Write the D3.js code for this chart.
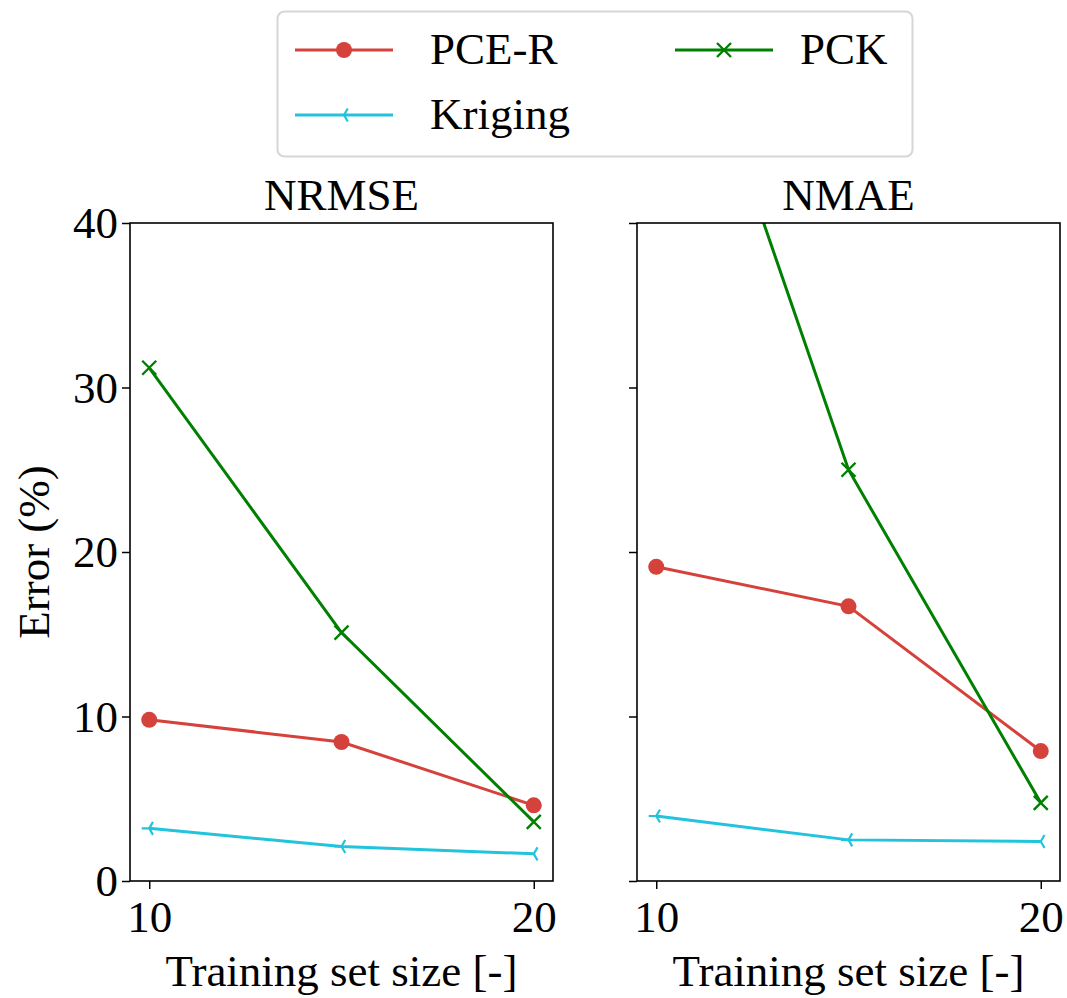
<!DOCTYPE html>
<html>
<head>
<meta charset="utf-8">
<script src="https://cdn.jsdelivr.net/npm/d3@7"></script>
<style>
  body { margin: 0; background: #fff; }
</style>
</head>
<body>
<svg id="chart" width="1067" height="998"></svg>
<script>
// ---- Data ----
const trainingSizes = [10, 15, 20];
const panelTitles = ["NRMSE", "NMAE"];
const seriesNames = ["PCE-R", "Kriging", "PCK"];
const nrmsePCER = [9.8, 8.45, 4.6];
const nrmseKriging = [3.2, 2.1, 1.65];
const nrmsePCK = [31.2, 15.1, 3.6];
const nmaePCER = [19.1, 16.7, 7.9];
const nmaeKriging = [3.95, 2.5, 2.4];
const nmaePCK = [59, 25.0, 4.75];
const yTicks = [0, 10, 20, 30, 40];
const xTicks = [10, 20];
const xLabel = "Training set size [-]";
const yLabel = "Error (%)";

const colors = { "PCE-R": "#d5423b", "Kriging": "#22c3dc", "PCK": "#008000" };
const FONT = "'Liberation Serif', 'Times New Roman', serif";

const panels = [
  { title: panelTitles[0], left: 130, data: { "PCE-R": nrmsePCER, "Kriging": nrmseKriging, "PCK": nrmsePCK }, showY: true },
  { title: panelTitles[1], left: 637, data: { "PCE-R": nmaePCER, "Kriging": nmaeKriging, "PCK": nmaePCK }, showY: false }
];

const svg = d3.select("#chart");
const W = 423, plotTop = 223, plotBottom = 881;
const fs = 45;

function drawMarker(g, name, x, y) {
  const c = colors[name];
  if (name === "PCE-R") {
    g.append("circle").attr("cx", x).attr("cy", y).attr("r", 8).attr("fill", c);
  } else if (name === "PCK") {
    const s = 7;
    g.append("path").attr("d", `M${x-s},${y-s}L${x+s},${y+s}M${x-s},${y+s}L${x+s},${y-s}`)
      .attr("stroke", c).attr("stroke-width", 2.4).attr("fill", "none");
  } else {
    const s = 7.5;
    g.append("path").attr("d", `M${x},${y}L${x - s},${y}M${x},${y}L${x + s*0.5},${y - s*0.866}M${x},${y}L${x + s*0.5},${y + s*0.866}`)
      .attr("stroke", c).attr("stroke-width", 2.2).attr("fill", "none");
  }
}

panels.forEach((p, i) => {
  const x = d3.scaleLinear().domain([9.5, 20.5]).range([p.left, p.left + W]);
  const y = d3.scaleLinear().domain([0, 40]).range([plotBottom, plotTop]);
  const g = svg.append("g");

  const clipId = "clip" + i;
  svg.append("clipPath").attr("id", clipId).append("rect")
    .attr("x", p.left).attr("y", plotTop).attr("width", W).attr("height", plotBottom - plotTop);

  const plot = g.append("g").attr("clip-path", `url(#${clipId})`);
  ["Kriging", "PCE-R", "PCK"].forEach(name => {
    const vals = p.data[name];
    const pts = trainingSizes.map((t, k) => [x(t), y(vals[k])]);
    plot.append("path").attr("d", d3.line()(pts))
      .attr("fill", "none").attr("stroke", colors[name]).attr("stroke-width", 3);
    pts.forEach(pt => drawMarker(plot, name, pt[0], pt[1]));
  });

  // axes
  const xAxis = d3.axisBottom(x).tickValues(xTicks).tickSize(8).tickPadding(6).tickFormat(d3.format("d"));
  const yAxis = d3.axisLeft(y).tickValues(yTicks).tickSize(8).tickPadding(4)
    .tickFormat(p.showY ? d3.format("d") : () => "");

  const gx = g.append("g").attr("transform", `translate(0,${plotBottom})`).call(xAxis);
  const gy = g.append("g").attr("transform", `translate(${p.left},0)`).call(yAxis);
  [gx, gy].forEach(a => {
    a.attr("font-family", null).attr("font-size", null);
    a.select(".domain").remove();
    a.selectAll(".tick line").attr("stroke", "#000").attr("stroke-width", 1.5);
    a.selectAll(".tick text").style("font-family", FONT).style("font-size", fs + "px").attr("fill", "#000");
  });
  gx.selectAll(".tick text").attr("y", 51).attr("dy", 0);
  gy.selectAll(".tick text").attr("dy", "0.33em");

  // frame
  g.append("rect").attr("x", p.left).attr("y", plotTop).attr("width", W).attr("height", plotBottom - plotTop)
    .attr("fill", "none").attr("stroke", "#000").attr("stroke-width", 1.6);

  // title
  g.append("text").attr("x", p.left + W / 2).attr("y", 210).attr("text-anchor", "middle")
    .style("font-family", FONT).style("font-size", fs + "px").text(p.title);
  // x label
  g.append("text").attr("x", p.left + W / 2).attr("y", 986).attr("text-anchor", "middle")
    .style("font-family", FONT).style("font-size", fs + "px").text(xLabel);
});

// y label
svg.append("text").attr("transform", `translate(49,${(plotTop + plotBottom) / 2}) rotate(-90)`)
  .attr("text-anchor", "middle").style("font-family", FONT).style("font-size", fs + "px").text(yLabel);

// legend
const lg = svg.append("g");
lg.append("rect").attr("x", 277.5).attr("y", 11.5).attr("width", 635).attr("height", 145)
  .attr("rx", 7).attr("fill", "#fff").attr("stroke", "#d6d6d6").attr("stroke-width", 2);
const legendPos = [
  { name: "PCE-R", lx: 295, ly: 50, tx: 430, ty: 64 },
  { name: "Kriging", lx: 295, ly: 115, tx: 430, ty: 129 },
  { name: "PCK", lx: 675, ly: 50, tx: 800, ty: 64 }
];
legendPos.forEach(d => {
  lg.append("line").attr("x1", d.lx).attr("x2", d.lx + 98).attr("y1", d.ly).attr("y2", d.ly)
    .attr("stroke", colors[d.name]).attr("stroke-width", 3);
  drawMarker(lg, d.name, d.lx + 49, d.ly);
  lg.append("text").attr("x", d.tx).attr("y", d.ty)
    .style("font-family", FONT).style("font-size", fs + "px").text(d.name);
});
</script>
</body>
</html>
